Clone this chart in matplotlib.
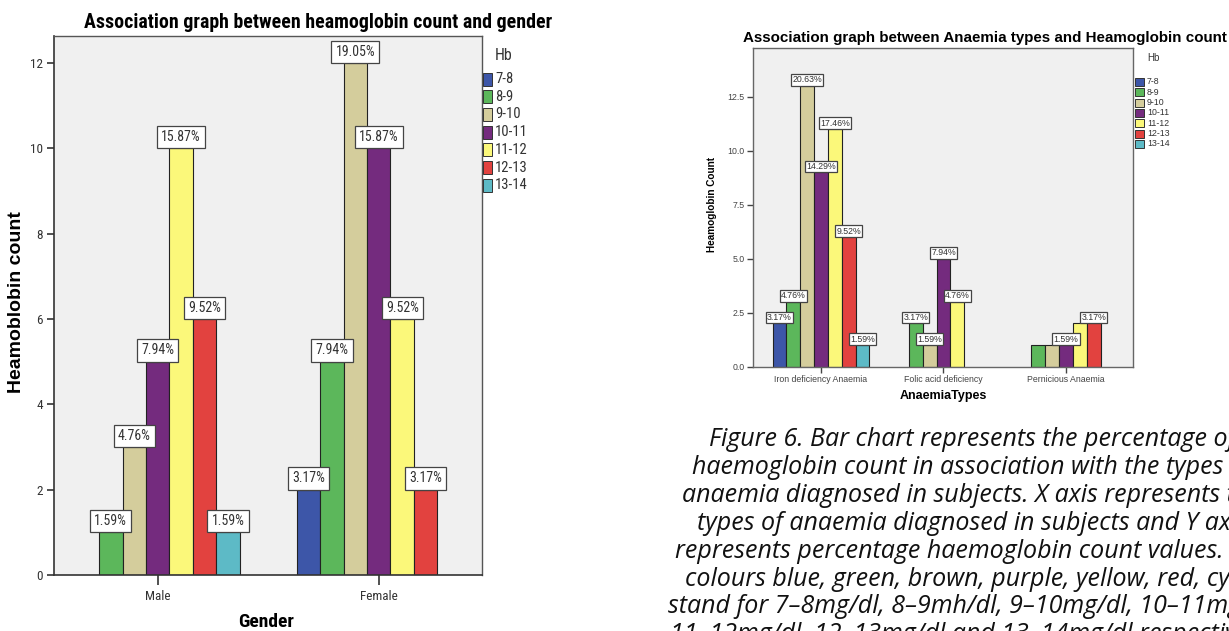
import matplotlib
matplotlib.use("Agg")
import matplotlib.pyplot as plt
from matplotlib.patches import Rectangle
import numpy as np

# Hb ranges (g/dl) and their bar colours
hb_ranges = ["7-8", "8-9", "9-10", "10-11", "11-12", "12-13", "13-14"]
hb_colors = ["#3d56a8", "#5cb75b", "#d4cd9c", "#742b7e", "#fbf87a", "#e2423f", "#5dbac6"]

# counts by gender
genders = ["Male", "Female"]
male_counts = [0, 1, 3, 5, 10, 6, 1]
female_counts = [2, 5, 12, 10, 6, 2, 0]

# counts by anaemia type
anaemia_types = ["Iron deficiency Anaemia", "Folic acid deficiency", "Pernicious Anaemia"]
iron_counts = [2, 3, 13, 9, 11, 6, 1]
folic_counts = [0, 2, 1, 5, 3, 0, 0]
pernicious_counts = [0, 1, 1, 1, 2, 2, 0]
# which percentage labels appear on the anaemia chart
iron_shown = [1, 1, 1, 1, 1, 1, 1]
folic_shown = [0, 1, 1, 1, 1, 0, 0]
pernicious_shown = [0, 0, 0, 1, 0, 1, 0]

caption_lines = [
    "Figure 6. Bar chart represents the percentage of",
    "haemoglobin count in association with the types of",
    "anaemia diagnosed in subjects. X axis represents the",
    "types of anaemia diagnosed in subjects and Y axis",
    "represents percentage haemoglobin count values. The",
    "colours blue, green, brown, purple, yellow, red, cyan",
    "stand for 7\u20138mg/dl, 8\u20139mh/dl, 9\u201310mg/dl, 10\u201311mg/dl,",
    "11\u201312mg/dl, 12\u201313mg/dl and 13\u201314mg/dl respectively.",
]

W, H = 1229, 631
NARROW = ["Roboto Condensed", "Liberation Sans Narrow", "DejaVu Sans", "Liberation Sans"]
ARIAL = ["Liberation Sans", "DejaVu Sans"]
plt.rcParams["font.stretch"] = "condensed"


def fx(x):
    return x / W


def fy(y):
    return 1 - y / H


def draw_clusters(ax, groups, width, label_font, label_size, pad, shown=None, stretch="normal"):
    total = sum(sum(g) for g in groups)
    for j in range(len(hb_ranges)):
        xs, vals = [], []
        for i, g in enumerate(groups):
            if g[j] > 0:
                xs.append(i + (j - 3) * width)
                vals.append(g[j])
        if not vals:
            continue
        ax.bar(xs, vals, width=width, color=hb_colors[j], edgecolor="#222222",
               linewidth=0.8, zorder=2)
        for i, g in enumerate(groups):
            v = g[j]
            if v == 0 or (shown is not None and not shown[i][j]):
                continue
            ax.annotate(f"{v / total * 100:.2f}%", xy=(i + (j - 3) * width, v),
                        xytext=(0, pad * label_size), textcoords="offset points",
                        ha="center", va="bottom", fontsize=label_size,
                        family=label_font, stretch=stretch, color="#333333", zorder=4,
                        bbox=dict(boxstyle=f"square,pad={pad}", fc="white",
                                  ec="#444444", lw=0.9))


def draw_legend(fig, x_sq, y0, step, sq_w, sq_h, x_txt, size, font, title_xy, title_size,
                stretch="normal"):
    fig.text(fx(title_xy[0]), fy(title_xy[1]), "Hb", fontsize=title_size,
             family=font, stretch=stretch, color="#333333", va="center", ha="left")
    for k, (lab, col) in enumerate(zip(hb_ranges, hb_colors)):
        yc = y0 + k * step
        fig.add_artist(Rectangle((fx(x_sq), fy(yc + sq_h / 2)), sq_w / W, sq_h / H,
                                 transform=fig.transFigure, fc=col, ec="#333333", lw=0.7))
        fig.text(fx(x_txt), fy(yc), lab, fontsize=size, family=font, stretch=stretch,
                 color="#333333", va="center", ha="left")


fig = plt.figure(figsize=(W / 100, H / 100), dpi=100)
fig.patch.set_facecolor("white")

# ---- gender chart ----
ax1 = fig.add_axes([fx(54), fy(575), 428 / W, 539 / H])
ax1.set_facecolor("#f0f0f0")
draw_clusters(ax1, [male_counts, female_counts], 0.106, NARROW, 10, 0.3, stretch="condensed")
ax1.set_xlim(-0.469, 1.467)
ax1.set_ylim(0, 12.63)
ax1.set_yticks(np.arange(0, 13, 2))
ax1.set_xticks(range(len(genders)))
ax1.set_xticklabels(genders)
for lab in ax1.get_xticklabels() + ax1.get_yticklabels():
    lab.set_family(NARROW)
    lab.set_stretch("condensed")
    lab.set_fontsize(9.5)
    lab.set_color("#333333")
ax1.tick_params(axis="both", length=5, width=1.2, color="#333333", pad=3)
ax1.tick_params(axis="x", length=7, pad=4)
for s in ["left", "bottom"]:
    ax1.spines[s].set_color("#333333")
    ax1.spines[s].set_linewidth(1.2)
for s in ["top", "right"]:
    ax1.spines[s].set_color("#555555")
    ax1.spines[s].set_linewidth(1.0)
fig.text(fx(318), fy(23), "Association graph between heamoglobin count and gender",
         ha="center", va="center", fontsize=14.3, family=NARROW, stretch="condensed",
         weight="bold")
fig.text(fx(17), fy(302), "Heamoblobin count", rotation=90, ha="center", va="center",
         fontsize=14, family=ARIAL, stretch="normal", weight="bold")
fig.text(fx(266), fy(622), "Gender", ha="center", va="center", fontsize=14,
         family=NARROW, stretch="condensed", weight="bold")
draw_legend(fig, 483, 79, 17.7, 9, 13, 495, 10.5, NARROW, (495, 56), 11.5, stretch="condensed")

# ---- anaemia type chart ----
ax2 = fig.add_axes([fx(753), fy(366.5), 380 / W, 318.5 / H])
ax2.set_facecolor("#f0f0f0")
draw_clusters(ax2, [iron_counts, folic_counts, pernicious_counts], 0.113, ARIAL, 6.3, 0.15,
              shown=[iron_shown, folic_shown, pernicious_shown])
ax2.set_xlim(-0.555, 2.547)
ax2.set_ylim(0, 14.75)
ax2.set_yticks(np.arange(0, 13, 2.5))
ax2.set_yticklabels([f"{t:.1f}" for t in np.arange(0, 13, 2.5)])
ax2.set_xticks(range(len(anaemia_types)))
ax2.set_xticklabels(anaemia_types)
for lab in ax2.get_xticklabels() + ax2.get_yticklabels():
    lab.set_family(ARIAL)
    lab.set_stretch("normal")
    lab.set_fontsize(6.3)
    lab.set_color("#444444")
ax2.tick_params(axis="both", length=4, width=1.0, color="#444444", pad=2)
for s in ax2.spines.values():
    s.set_color("#666666")
    s.set_linewidth(1.0)
fig.text(fx(985), fy(38), "Association graph between Anaemia types and Heamoglobin count",
         ha="center", va="center", fontsize=10.9, family=ARIAL, stretch="normal",
         weight="bold")
fig.text(fx(712), fy(205), "Heamoglobin Count", rotation=90, ha="center", va="center",
         fontsize=7.2, family=ARIAL, stretch="normal", weight="bold")
fig.text(fx(943), fy(396), "AnaemiaTypes", ha="center", va="center", fontsize=9,
         family=ARIAL, stretch="normal", weight="bold")
draw_legend(fig, 1135, 82, 10.3, 9, 8, 1147, 6.3, ARIAL, (1147, 58), 7)

# ---- caption ----
for k, line in enumerate(caption_lines):
    fig.text(fx(972), fy(440 + 27.8 * k), line, ha="center", va="center",
             fontsize=18, family=["Open Sans", "Lato", "DejaVu Sans"], stretch="normal",
             style="italic", color="#111111")

fig.savefig("out.png", dpi=100)
